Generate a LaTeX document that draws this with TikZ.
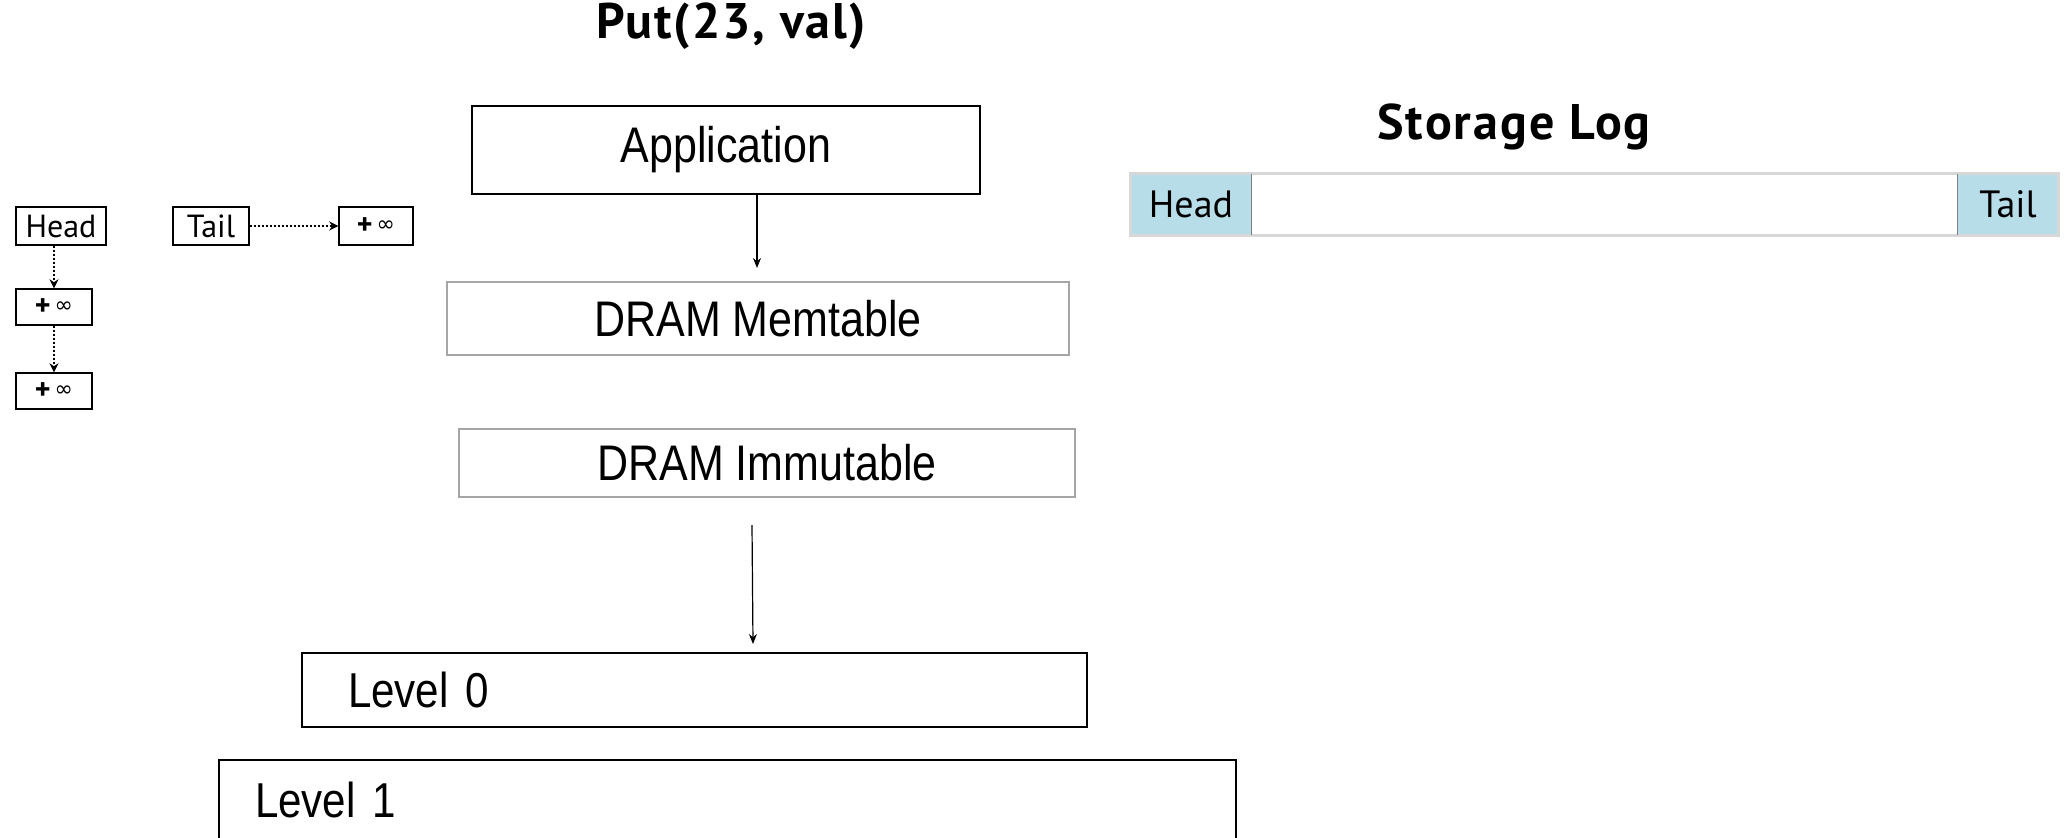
\documentclass[tikz,border=0pt]{standalone}
\usepackage{fontspec}
\setmainfont{Liberation Sans}
\newfontfamily\boxfont[FakeStretch=0.86]{Liberation Sans}
\newfontfamily\labfont{PT Sans}
\newfontfamily\titlefont[LetterSpace=4]{PT Sans}
\newfontfamily\symfont{DejaVu Sans}
\usetikzlibrary{arrows.meta}
\definecolor{logblue}{RGB}{183,221,232}
\definecolor{boxgray}{RGB}{165,165,165}
\definecolor{logedge}{RGB}{215,215,215}
\newcommand{\posinf}{{\labfont\bfseries\fontsize{15}{15}\selectfont +}\hspace{2pt}\raisebox{1.5pt}{\symfont\fontsize{11}{11}\selectfont ∞}}
\tikzset{
  stage/.style={draw, line width=1.4pt, inner sep=0pt, font=\boxfont\fontsize{25}{25}\selectfont},
  dram/.style={draw=boxgray, line width=0.7pt, inner sep=0pt, font=\boxfont\fontsize{25}{25}\selectfont},
  lvl/.style={draw, line width=1.4pt, align=left, font=\boxfont\fontsize{24.5}{25}\selectfont},
  skip/.style={draw, line width=0.7pt, inner sep=0pt, minimum height=19pt, font=\labfont\fontsize{16}{16}\selectfont},
  cell/.style={inner sep=0pt, minimum height=30.5pt, font=\labfont\fontsize{19}{19}\selectfont},
  flow/.style={-{Stealth[length=5pt,width=4pt]}, line width=0.6pt},
  link/.style={densely dotted, line width=1pt, -{Stealth[length=4.5pt,width=4.5pt]}},
  title/.style={font=\titlefont\bfseries\fontsize{25}{25}\selectfont}
}
\begin{document}
\begin{tikzpicture}[x=0.5pt,y=-0.5pt]
\useasboundingbox (0,0) rectangle (2069,837);
\clip (0,0) rectangle (2069,837);
% write path
\node[title] (put) at (731,26) {Put(23, val)};
\node[stage, minimum width=254pt, minimum height=44pt] (app) at (726,150) {Application};
\node[dram, minimum width=311pt, minimum height=36.5pt] (mem) at (758,318.5) {DRAM Memtable};
\node[dram, minimum width=308pt, minimum height=34pt] (imm) at (767,463) {DRAM Immutable};
\node[lvl, inner xsep=23pt, text width=346.5pt, minimum height=37pt] (lvl0) at (694.5,690) {Level 0};
\node[lvl, inner xsep=18pt, text width=472.5pt, minimum height=40pt] (lvl1) at (727.5,800) {Level 1};
\coordinate (memin) at (757,268);
\coordinate (flushtop) at (752,525);
\coordinate (flushbot) at (753,644);
\draw[flow] (app.south -| memin) -- (memin);
\draw[flow] (flushtop) -- (flushbot);
% skiplist
\node[skip, minimum width=45pt] (head) at (61,226) {Head};
\node[skip, minimum width=38pt] (tail) at (211,226) {Tail};
\node[skip, minimum width=37pt] (tailinf) at (376,226) {\posinf};
\node[skip, minimum width=38pt, minimum height=18pt] (inf1) at (54,307) {\posinf};
\node[skip, minimum width=38pt, minimum height=18pt] (inf2) at (54,391) {\posinf};
\draw[link] (tail) -- (tailinf);
\draw[link] (head.south -| inf1) -- (inf1);
\draw[link] (inf1) -- (inf2);
% storage log
\node[title] (logtitle) at (1514,127) {Storage Log};
\node[cell, fill=logblue, minimum width=60pt] (loghead) at (1191,204.5) {Head};
\node[cell, minimum width=353.5pt] (logbody) at (1604.5,204.5) {};
\node[cell, fill=logblue, minimum width=50pt] (logtail) at (2008,204.5) {Tail};
\draw[logedge, line width=1.8pt] (loghead.north west) rectangle (logtail.south east);
\draw[gray, line width=0.6pt] (loghead.north east) -- (loghead.south east);
\draw[gray, line width=0.6pt] (logtail.north west) -- (logtail.south west);
\end{tikzpicture}
\end{document}
